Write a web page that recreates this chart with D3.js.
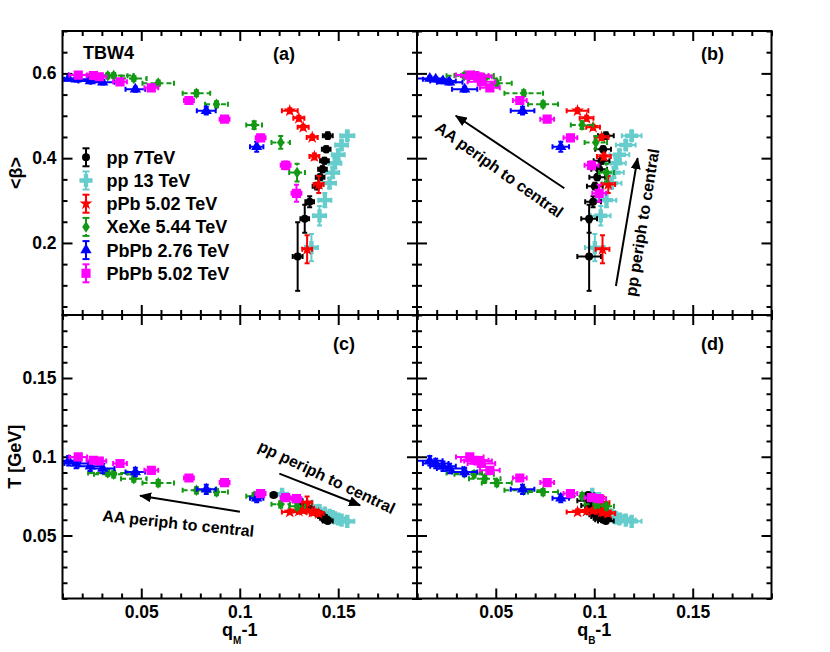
<!DOCTYPE html>
<html><head><meta charset="utf-8">
<script src="https://cdn.jsdelivr.net/npm/d3@7/dist/d3.min.js"></script>
<style>
body{margin:0;background:#fff}
svg{display:block;background:#fff}
text{font-family:"Liberation Sans",Arial,Helvetica,sans-serif;font-weight:bold}
</style>
</head><body>
<svg id="chart" width="830" height="652"></svg>
<script>
// ---------------- DATA ----------------
const seriesNames = ["pp 7TeV","pp 13 TeV","pPb 5.02 TeV","XeXe 5.44 TeV","PbPb 2.76 TeV","PbPb 5.02 TeV"];

// pp 7 TeV (last class: <beta> below plotted range)
const pp7_qM    = [0.1447,0.1439,0.1430,0.1420,0.1408,0.1392,0.1355,0.1330,0.1294,0.1172];
const pp7_qMe   = [0.0025,0.0022,0.0022,0.0022,0.0022,0.0022,0.0022,0.0022,0.0025,0.0015];
const pp7_qB    = [0.1059,0.1045,0.1037,0.1025,0.1015,0.1003,0.0994,0.0974,0.0974,0.0969];
const pp7_qBe   = [0.0040,0.0040,0.0040,0.0040,0.0040,0.0040,0.0040,0.0040,0.0060,0.0030];
const pp7_beta  = [0.453,0.421,0.394,0.374,0.355,0.334,0.297,0.257,0.168,null];
const pp7_betaE = [0.008,0.007,0.007,0.007,0.007,0.008,0.013,0.033,0.081,null];
const pp7_T     = [0.0592,0.0600,0.0610,0.0620,0.0632,0.0645,0.0668,0.0690,0.0720,0.0757];
const pp7_TE    = [0.0010,0.0010,0.0010,0.0010,0.0010,0.0015,0.0015,0.0020,0.0030,0.0010];

// pp 13 TeV
const pp13_qM    = [0.1546,0.1517,0.1500,0.1483,0.1472,0.1456,0.1432,0.1405,0.1364,0.1215];
const pp13_qMe   = [0.0036,0.0033,0.0033,0.0033,0.0033,0.0033,0.0033,0.0033,0.0033,0.0030];
const pp13_qB    = [0.1190,0.1160,0.1128,0.1110,0.1100,0.1088,0.1062,0.1033,0.1003,0.0990];
const pp13_qBe   = [0.0050,0.0050,0.0050,0.0050,0.0050,0.0050,0.0050,0.0050,0.0050,0.0040];
const pp13_beta  = [0.453,0.431,0.408,0.388,0.366,0.341,0.301,0.264,0.189,null];
const pp13_betaE = [0.010,0.010,0.012,0.012,0.012,0.012,0.017,0.023,0.032,null];
const pp13_T     = [0.0590,0.0598,0.0605,0.0612,0.0620,0.0628,0.0642,0.0658,0.0685,0.0762];
const pp13_TE    = [0.0012,0.0012,0.0012,0.0012,0.0012,0.0012,0.0012,0.0015,0.0015,0.0012];

// pPb 5.02 TeV
const pPb_qM    = [0.1254,0.1300,0.1322,0.1368,0.1379,0.1401,0.1342];
const pPb_qMe   = [0.0040,0.0028,0.0028,0.0028,0.0025,0.0025,0.0025];
const pPb_qB    = [0.0915,0.0961,0.0994,0.1037,0.1049,0.1071,0.1042];
const pPb_qBe   = [0.0055,0.0035,0.0035,0.0035,0.0035,0.0035,0.0035];
const pPb_beta  = [0.512,0.494,0.473,0.449,0.404,0.338,0.185];
const pPb_betaE = [0.006,0.006,0.006,0.006,0.007,0.020,0.033];
const pPb_T     = [0.0650,0.0655,0.0660,0.0647,0.0650,0.0640,0.0708];
const pPb_TE    = [0.0015,0.0015,0.0015,0.0015,0.0015,0.0015,0.0040];

// XeXe 5.44 TeV
const XeXe_qM    = [0.0330,0.0360,0.0462,0.0586,0.0780,0.0882,0.1073,0.1208,0.1291];
const XeXe_qMe   = [0.0100,0.0100,0.0065,0.0080,0.0070,0.0058,0.0040,0.0047,0.0040];
const XeXe_qB    = [0.0340,0.0390,0.0444,0.0505,0.0642,0.0740,0.0938,0.1008,0.1062];
const XeXe_qBe   = [0.0090,0.0100,0.0080,0.0076,0.0098,0.0076,0.0057,0.0057,0.0038];
const XeXe_beta  = [0.5946,0.595,0.588,0.577,0.553,0.527,0.478,0.437,0.366];
const XeXe_betaE = [0.006,0.006,0.006,0.006,0.007,0.007,0.009,0.015,0.021];
const XeXe_T     = [0.0897,0.0889,0.0861,0.0833,0.0787,0.0776,0.0750,0.0698,0.0685];
const XeXe_TE    = [0.0020,0.0020,0.0020,0.0020,0.0020,0.0020,0.0020,0.0020,0.0020];

// PbPb 2.76 TeV
const PbPb276_qM    = [0.0131,0.0169,0.0241,0.0304,0.0470,0.0830,0.1086];
const PbPb276_qMe   = [0.0060,0.0060,0.0060,0.0060,0.0050,0.0048,0.0034];
const PbPb276_qB    = [0.0165,0.0195,0.0232,0.0266,0.0342,0.0636,0.0830];
const PbPb276_qBe   = [0.0065,0.0065,0.0065,0.0065,0.0064,0.0060,0.0042];
const PbPb276_beta  = [0.588,0.586,0.582,0.579,0.5625,0.512,0.427];
const PbPb276_betaE = [0.005,0.005,0.005,0.005,0.006,0.009,0.012];
const PbPb276_T     = [0.0975,0.0957,0.0940,0.0925,0.0903,0.0793,0.0736];
const PbPb276_TE    = [0.0030,0.0030,0.0030,0.0030,0.0027,0.0030,0.0025];

// PbPb 5.02 TeV
const PbPb502_qM    = [0.0180,0.0257,0.0287,0.0392,0.0551,0.0742,0.0923,0.1106,0.1233,0.1288];
const PbPb502_qMe   = [0.0045,0.0035,0.0035,0.0035,0.0035,0.0025,0.0025,0.0025,0.0025,0.0025];
const PbPb502_qB    = [0.0368,0.0393,0.0410,0.0427,0.0470,0.0622,0.0761,0.0879,0.0986,0.1025];
const PbPb502_qBe   = [0.0070,0.0070,0.0070,0.0070,0.0050,0.0035,0.0035,0.0035,0.0035,0.0035];
const PbPb502_beta  = [0.596,0.595,0.592,0.580,0.566,0.536,0.492,0.448,0.383,0.317];
const PbPb502_betaE = [0.005,0.005,0.005,0.005,0.005,0.006,0.006,0.007,0.009,0.020];
const PbPb502_T     = [0.0999,0.0978,0.0973,0.0957,0.0914,0.0865,0.0836,0.0766,0.0740,0.0734];
const PbPb502_TE    = [0.0015,0.0015,0.0015,0.0015,0.0015,0.0015,0.0015,0.0015,0.0015,0.0015];

// axis tick labels
const xTickLabels    = [0.05,0.1,0.15];
const betaTickLabels = [0.2,0.4,0.6];
const tTickLabels    = [0.05,0.1,0.15];

// annotation arrows (data coords: [x0,y0,x1,y1], tail -> head)
const arrowB_AA = [0.0848,0.329,0.0297,0.500];
const arrowB_pp = [0.1110,0.0985,0.1220,0.400];
const arrowC_pp = [0.1201,0.0893,0.1611,0.0692];
const arrowC_AA = [0.1001,0.0651,0.0494,0.0753];

// ---------------- STYLE ----------------
const colors  = ["#000000","#66cccc","#ff0000","#149914","#0000ff","#ff00ff"];
const shapes  = ["circle","cross","star","diamond","triangle","square"];
const dashed  = [false,false,false,true,false,false];
const drawOrder = [1,0,2,3,4,5];

const raw = [
  [pp7_qM,pp7_qMe,pp7_qB,pp7_qBe,pp7_beta,pp7_betaE,pp7_T,pp7_TE],
  [pp13_qM,pp13_qMe,pp13_qB,pp13_qBe,pp13_beta,pp13_betaE,pp13_T,pp13_TE],
  [pPb_qM,pPb_qMe,pPb_qB,pPb_qBe,pPb_beta,pPb_betaE,pPb_T,pPb_TE],
  [XeXe_qM,XeXe_qMe,XeXe_qB,XeXe_qBe,XeXe_beta,XeXe_betaE,XeXe_T,XeXe_TE],
  [PbPb276_qM,PbPb276_qMe,PbPb276_qB,PbPb276_qBe,PbPb276_beta,PbPb276_betaE,PbPb276_T,PbPb276_TE],
  [PbPb502_qM,PbPb502_qMe,PbPb502_qB,PbPb502_qBe,PbPb502_beta,PbPb502_betaE,PbPb502_T,PbPb502_TE]
];
const table = raw.map(a => a[0].map((v,i) => ({
  qM:a[0][i], qMe:a[1][i], qB:a[2][i], qBe:a[3][i],
  beta:a[4][i], betaE:a[5][i], T:a[6][i], TE:a[7][i]
})));

// ---------------- LAYOUT ----------------
const L = 62.5, M = 417, R = 771.5, TOP = 31, MID = 315, BOT = 598.5;
const xM = d3.scaleLinear().domain([0.01,0.19]).range([L,M]);
const xB = d3.scaleLinear().domain([0.01,0.19]).range([M,R]);
const yBeta = d3.scaleLinear().domain([0.03,0.70]).range([MID,TOP]);
const yT = d3.scaleLinear().domain([0.01,0.19]).range([BOT,MID]);

const svg = d3.select("#chart");
svg.append("rect").attr("width",830).attr("height",652).attr("fill","#fff");

const panels = [
  {id:"a", xs:xM, ys:yBeta, xk:"qM", xe:"qMe", yk:"beta", ye:"betaE", showX:false, showY:true,  yMaj:betaTickLabels},
  {id:"b", xs:xB, ys:yBeta, xk:"qB", xe:"qBe", yk:"beta", ye:"betaE", showX:false, showY:false, yMaj:betaTickLabels},
  {id:"c", xs:xM, ys:yT,    xk:"qM", xe:"qMe", yk:"T",    ye:"TE",    showX:true,  showY:true,  yMaj:tTickLabels},
  {id:"d", xs:xB, ys:yT,    xk:"qB", xe:"qBe", yk:"T",    ye:"TE",    showX:true,  showY:false, yMaj:tTickLabels}
];

function markerPath(type){
  switch(type){
    case "circle":   return d3.symbol(d3.symbolCircle,50)();
    case "cross":    return d3.symbol(d3.symbolCross,96)();
    case "star":     return d3.symbol(d3.symbolStar,52)();
    case "diamond":  return "M0,-5.8L3.8,0L0,5.8L-3.8,0Z";
    case "triangle": return d3.symbol(d3.symbolTriangle,55)();
    case "square":   return d3.symbol(d3.symbolSquare,84)();
  }
}
const near = (a,b) => Math.abs(a-b) < 1e-9;
const fmt = d => String(+d.toFixed(3));

function styleAxis(g){
  g.select(".domain").remove();
  g.selectAll("line").attr("stroke","#000").attr("stroke-width",2);
  g.attr("font-family","Liberation Sans, Arial, sans-serif").attr("font-size",17.5).attr("font-weight","bold");
  g.selectAll("text").attr("fill","#000");
}

panels.forEach(p => {
  const [x0,x1] = p.xs.range(); const [y1,y0] = p.ys.range();
  const g = svg.append("g");
  const clipId = "clip-"+p.id;
  svg.append("clipPath").attr("id",clipId).append("rect")
     .attr("x",x0).attr("y",y0).attr("width",x1-x0).attr("height",y1-y0);

  const xMin = p.xs.ticks(18).filter(v => !xTickLabels.some(m=>near(m,v)));
  const yMin = p.ys.ticks(p.yk==="beta"?14:18).filter(v => !p.yMaj.some(m=>near(m,v)));

  // axes: major + minor on all four sides, ticks inward
  const axes = [
    [d3.axisLeft,  p.ys, `translate(${x0},0)`, p.showY, p.yMaj, yMin, 6],
    [d3.axisRight, p.ys, `translate(${x1},0)`, false,   p.yMaj, yMin, 6],
    [d3.axisBottom,p.xs, `translate(0,${y1})`, p.showX, xTickLabels, xMin, 7],
    [d3.axisTop,   p.xs, `translate(0,${y0})`, false,   xTickLabels, xMin, 6]
  ];
  axes.forEach(([fn,sc,tr,show,maj,mnr,pad]) => {
    const gm = g.append("g").attr("transform",tr)
      .call(fn(sc).tickValues(maj).tickSize(-10).tickPadding(pad).tickFormat(show?fmt:()=>""));
    styleAxis(gm);
    const gn = g.append("g").attr("transform",tr)
      .call(fn(sc).tickValues(mnr).tickSize(-5).tickFormat(()=>""));
    styleAxis(gn);
  });

  // data
  const gd = g.append("g").attr("clip-path",`url(#${clipId})`);
  drawOrder.forEach(si => {
    const col = colors[si];
    const pts = table[si].filter(d => d[p.yk]!=null && d[p.xk]!=null);
    const gs = gd.append("g");
    const dash = dashed[si] ? "5,3" : null;
    const cap = 2.5;
    pts.forEach(d => {
      const cx = p.xs(d[p.xk]), cy = p.ys(d[p.yk]);
      const xa = p.xs(d[p.xk]-d[p.xe]), xb = p.xs(d[p.xk]+d[p.xe]);
      const ya = p.ys(d[p.yk]-d[p.ye]), yb = p.ys(d[p.yk]+d[p.ye]);
      const eb = gs.append("g").attr("stroke",col).attr("stroke-width",2).attr("fill","none");
      eb.append("line").attr("x1",xa).attr("x2",xb).attr("y1",cy).attr("y2",cy).attr("stroke-dasharray",dash);
      eb.append("line").attr("x1",cx).attr("x2",cx).attr("y1",ya).attr("y2",yb).attr("stroke-dasharray",dash);
      eb.append("line").attr("x1",xa).attr("x2",xa).attr("y1",cy-cap).attr("y2",cy+cap);
      eb.append("line").attr("x1",xb).attr("x2",xb).attr("y1",cy-cap).attr("y2",cy+cap);
      eb.append("line").attr("x1",cx-cap).attr("x2",cx+cap).attr("y1",ya).attr("y2",ya);
      eb.append("line").attr("x1",cx-cap).attr("x2",cx+cap).attr("y1",yb).attr("y2",yb);
    });
    gs.selectAll("path.m").data(pts).join("path").attr("class","m")
      .attr("d",markerPath(shapes[si]))
      .attr("transform",d=>`translate(${p.xs(d[p.xk])},${p.ys(d[p.yk])})`)
      .attr("fill",col);
  });

  // frame
  g.append("rect").attr("x",x0).attr("y",y0).attr("width",x1-x0).attr("height",y1-y0)
   .attr("fill","none").attr("stroke","#000").attr("stroke-width",2);
});

// panel labels
const lab = (x,y,t,size) => svg.append("text").attr("x",x).attr("y",y).attr("font-size",size||18).attr("fill","#000").text(t);
lab(83,59,"TBW4");
lab(273,60,"(a)");
lab(701,60,"(b)");
lab(333,350,"(c)");
lab(701,350,"(d)");

// legend
const legY0 = 157.3, legDY = 23.2;
seriesNames.forEach((name,i) => {
  const y = legY0 + i*legDY, x = 86;
  const gl = svg.append("g").attr("stroke",colors[i]).attr("stroke-width",2);
  gl.append("line").attr("x1",x).attr("x2",x).attr("y1",y-9).attr("y2",y+9).attr("stroke-dasharray",dashed[i]?"5,3":null);
  gl.append("line").attr("x1",x-3.5).attr("x2",x+3.5).attr("y1",y-9).attr("y2",y-9);
  gl.append("line").attr("x1",x-3.5).attr("x2",x+3.5).attr("y1",y+9).attr("y2",y+9);
  svg.append("path").attr("d",markerPath(shapes[i])).attr("transform",`translate(${x},${y})`).attr("fill",colors[i]);
  lab(106.5, y+6.5, name);
});

// axis titles
svg.append("text").attr("transform","translate(21.5,173) rotate(-90)").attr("text-anchor","middle")
   .attr("font-size",18).text("<β>");
svg.append("text").attr("transform","translate(21,456.7) rotate(-90)").attr("text-anchor","middle")
   .attr("font-size",18).text("T [GeV]");
[[ (L+M)/2, "M"], [(M+R)/2, "B"]].forEach(([cx,sub]) => {
  const t = svg.append("text").attr("x",cx).attr("y",636).attr("text-anchor","middle").attr("font-size",18);
  t.append("tspan").text("q");
  t.append("tspan").attr("font-size",10).attr("dy",7.5).text(sub);
  t.append("tspan").attr("dy",-7.5).text("-1");
});

// arrows
const defs = svg.append("defs");
defs.append("marker").attr("id","ah").attr("viewBox","0 0 12 10").attr("refX",11).attr("refY",5)
  .attr("markerWidth",12).attr("markerHeight",10).attr("markerUnits","userSpaceOnUse").attr("orient","auto")
  .append("path").attr("d","M0,0L12,5L0,10Z").attr("fill","#000");
function arrow(a, xs, ys){
  svg.append("line").attr("x1",xs(a[0])).attr("y1",ys(a[1])).attr("x2",xs(a[2])).attr("y2",ys(a[3]))
    .attr("stroke","#000").attr("stroke-width",2).attr("marker-end","url(#ah)");
}
arrow(arrowB_AA, xB, yBeta);
arrow(arrowB_pp, xB, yBeta);
arrow(arrowC_pp, xM, yT);
arrow(arrowC_AA, xM, yT);

function note(x,y,ang,t){
  svg.append("text").attr("transform",`translate(${x},${y}) rotate(${ang})`).attr("font-size",16).text(t);
}
note(434,130,35.5,"AA periph to central");
note(636,297,-81,"pp periph to central");
note(257,450,25.5,"pp periph to central");
note(102,521,6,"AA periph to central");
</script>
</body></html>
